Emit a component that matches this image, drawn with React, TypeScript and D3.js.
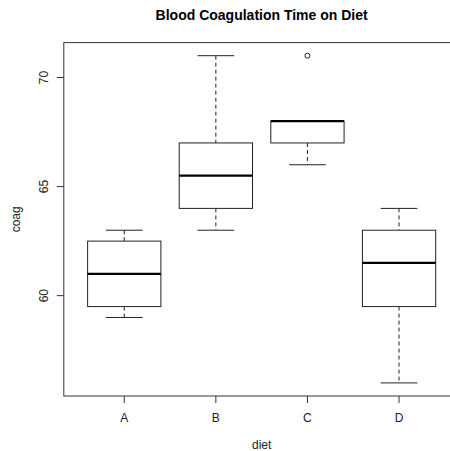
import React, { useEffect, useRef } from 'react';
import * as d3 from 'd3';

const diets = ['A', 'B', 'C', 'D'];
const whiskerLow = [59, 63, 66, 56];
const boxLow = [59.5, 64, 67, 59.5];
const medians = [61, 65.5, 68, 61.5];
const boxHigh = [62.5, 67, 68, 63];
const whiskerHigh = [63, 71, 68, 64];
const outliers = [[], [], [71], []];
const yTicks = [60, 65, 70];

const App = () => {
  const ref = useRef<SVGSVGElement>(null);

  useEffect(() => {
    if (!ref.current) return;
    const svg = d3.select(ref.current);
    svg.selectAll('*').remove();

    const left = 63.8, right = 459.5, top = 42.6, bottom = 396;
    const font = 'Liberation Sans, Arial, sans-serif';
    const ink = '#222';

    const x = d3.scaleLinear().domain([0.34, 4.66]).range([left, right]);
    const y = d3.scaleLinear().domain([55.4, 71.6]).range([bottom, top]);
    const unit = x(1) - x(0);

    const rows = diets.map((d, i) => ({
      name: d, pos: i + 1,
      lo: whiskerLow[i], q1: boxLow[i], med: medians[i], q3: boxHigh[i], hi: whiskerHigh[i],
      out: outliers[i],
    }));

    const g = svg.selectAll('.box').data(rows).enter().append('g').attr('class', 'box');

    // dashed whiskers
    g.append('line')
      .attr('x1', d => x(d.pos)).attr('x2', d => x(d.pos))
      .attr('y1', d => y(d.hi)).attr('y2', d => y(d.q3))
      .attr('stroke', ink).attr('stroke-dasharray', '4,3');
    g.append('line')
      .attr('x1', d => x(d.pos)).attr('x2', d => x(d.pos))
      .attr('y1', d => y(d.q1)).attr('y2', d => y(d.lo))
      .attr('stroke', ink).attr('stroke-dasharray', '4,3');

    // staples
    [d => d.hi, d => d.lo].forEach((acc: any) => {
      g.append('line')
        .attr('x1', d => x(d.pos) - unit * 0.2).attr('x2', d => x(d.pos) + unit * 0.2)
        .attr('y1', d => y(acc(d))).attr('y2', d => y(acc(d)))
        .attr('stroke', ink);
    });

    // boxes
    g.append('rect')
      .attr('x', d => x(d.pos) - unit * 0.4)
      .attr('width', unit * 0.8)
      .attr('y', d => y(d.q3))
      .attr('height', d => y(d.q1) - y(d.q3))
      .attr('fill', 'white').attr('stroke', ink);

    // medians
    g.append('line')
      .attr('x1', d => x(d.pos) - unit * 0.4).attr('x2', d => x(d.pos) + unit * 0.4)
      .attr('y1', d => y(d.med)).attr('y2', d => y(d.med))
      .attr('stroke', '#000').attr('stroke-width', 2.2);

    // outliers
    g.each(function (d) {
      d3.select(this).selectAll('circle').data(d.out).enter().append('circle')
        .attr('cx', x(d.pos)).attr('cy', v => y(v)).attr('r', 2.5)
        .attr('fill', 'none').attr('stroke', ink);
    });

    // frame
    svg.append('rect')
      .attr('x', left).attr('y', top)
      .attr('width', right - left).attr('height', bottom - top)
      .attr('fill', 'none').attr('stroke', '#333');

    // y axis
    const ya = svg.append('g');
    yTicks.forEach(t => {
      ya.append('line').attr('x1', left - 7).attr('x2', left).attr('y1', y(t)).attr('y2', y(t)).attr('stroke', '#333');
      ya.append('text')
        .attr('transform', `translate(${left - 16},${y(t)}) rotate(-90)`)
        .attr('text-anchor', 'middle')
        .attr('font-family', font).attr('font-size', 12).attr('fill', ink)
        .text(t);
    });

    // x axis
    rows.forEach(d => {
      svg.append('line').attr('x1', x(d.pos)).attr('x2', x(d.pos)).attr('y1', bottom).attr('y2', bottom + 7).attr('stroke', '#333');
      svg.append('text')
        .attr('x', x(d.pos)).attr('y', 422)
        .attr('text-anchor', 'middle')
        .attr('font-family', font).attr('font-size', 12).attr('fill', ink)
        .text(d.name);
    });

    svg.append('text')
      .attr('x', (left + right) / 2).attr('y', 449)
      .attr('text-anchor', 'middle')
      .attr('font-family', font).attr('font-size', 12).attr('fill', ink)
      .text('diet');

    svg.append('text')
      .attr('transform', `translate(20,${(top + bottom) / 2}) rotate(-90)`)
      .attr('text-anchor', 'middle')
      .attr('font-family', font).attr('font-size', 12).attr('fill', ink)
      .text('coag');

    svg.append('text')
      .attr('x', (left + right) / 2).attr('y', 20)
      .attr('text-anchor', 'middle')
      .attr('font-family', font).attr('font-size', 14).attr('font-weight', 'bold').attr('fill', '#000')
      .text('Blood Coagulation Time on Diet');
  }, []);

  return (
    <svg ref={ref} width={450} height={451}
      style={{ position: 'absolute', left: 0, top: 0, background: 'white' }} />
  );
};

export default App;
